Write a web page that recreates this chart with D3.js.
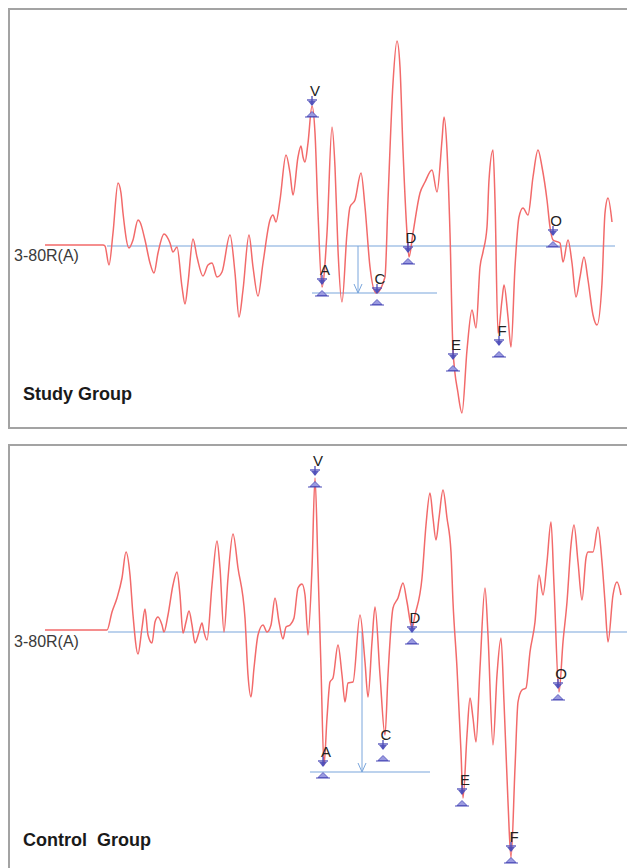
<!DOCTYPE html>
<html><head><meta charset="utf-8">
<script src="https://cdn.jsdelivr.net/npm/d3@7/dist/d3.min.js"></script>
<style>body{margin:0;background:#fff;}svg{display:block;}</style>
</head><body>
<script>
// Time in ms (0 = stimulus onset), amplitude in µV
const studyTime = [-1.24,-0.08,-0.04,0.04,0.12,0.22,0.28,0.32,0.44,0.52,0.62,0.66,0.76,0.86,0.94,1.02,1.14,1.26,1.32,1.40,1.50,1.56,1.62,1.72,1.80,1.92,2.02,2.10,2.20,2.30,2.46,2.56,2.64,2.72,2.84,2.92,3.02,3.12,3.26,3.32,3.38,3.46,3.58,3.66,3.72,3.82,3.88,3.92,3.96,4.02,4.10,4.16,4.22,4.30,4.40,4.50,4.56,4.62,4.70,4.80,4.86,4.96,5.08,5.16,5.26,5.38,5.56,5.62,5.72,5.80,5.86,5.92,6.00,6.04,6.12,6.26,6.36,6.50,6.60,6.70,6.74,6.80,6.86,6.92,7.02,7.10,7.20,7.30,7.38,7.46,7.52,7.60,7.64,7.72,7.76,7.82,7.90,7.94,8.02,8.08,8.16,8.24,8.32,8.42,8.52,8.62,8.70,8.80,8.86,8.92,9.06,9.12,9.22,9.30,9.38,9.46,9.54,9.62,9.72,9.80,9.90,9.96,10.02,10.10];
const studyAmp = [0.01,0.01,0.00,-0.19,0.13,0.63,0.53,0.33,-0.02,0.06,0.26,0.24,0.06,-0.17,-0.27,-0.07,0.12,0.03,-0.06,-0.01,-0.41,-0.58,-0.37,0.07,-0.11,-0.30,-0.19,-0.17,-0.31,-0.26,0.11,-0.27,-0.71,-0.44,0.11,-0.21,-0.50,-0.17,0.26,0.31,0.24,0.46,0.91,0.73,0.51,0.89,1.00,0.89,0.84,1.03,1.40,1.13,0.33,-0.41,0.13,1.19,0.79,-0.04,-0.56,0.13,0.39,0.46,0.73,0.39,-0.21,-0.47,-0.31,0.46,1.63,2.05,1.79,0.96,0.13,-0.11,0.13,0.53,0.64,0.76,0.54,1.06,1.29,0.96,0.13,-1.04,-1.47,-1.67,-1.04,-0.64,-0.82,-0.21,-0.06,0.19,0.66,0.96,0.46,-0.87,-0.54,-0.39,-0.71,-1.01,-0.21,0.29,0.38,0.31,0.69,0.96,0.79,0.46,0.19,0.06,0.03,-0.16,0.06,-0.17,-0.51,-0.31,-0.11,-0.34,-0.69,-0.79,-0.37,0.33,0.48,0.24];

const controlTime = [-1.24,0.00,0.10,0.20,0.30,0.38,0.46,0.52,0.62,0.70,0.76,0.82,0.90,0.96,1.02,1.10,1.14,1.22,1.32,1.40,1.46,1.52,1.58,1.64,1.70,1.76,1.84,1.90,1.94,2.00,2.10,2.20,2.26,2.34,2.42,2.52,2.62,2.76,2.82,2.88,2.94,3.02,3.12,3.20,3.28,3.36,3.44,3.52,3.58,3.66,3.74,3.82,3.90,3.96,4.02,4.10,4.16,4.22,4.28,4.34,4.40,4.46,4.52,4.62,4.70,4.76,4.82,4.92,5.06,5.16,5.22,5.30,5.36,5.46,5.56,5.62,5.72,5.82,5.92,6.00,6.10,6.16,6.30,6.38,6.46,6.52,6.58,6.64,6.72,6.80,6.88,6.92,7.00,7.08,7.12,7.20,7.26,7.32,7.38,7.46,7.56,7.62,7.72,7.80,7.88,7.94,8.02,8.08,8.16,8.22,8.30,8.38,8.46,8.56,8.64,8.72,8.80,8.88,8.94,9.04,9.12,9.20,9.28,9.34,9.42,9.50,9.58,9.62,9.72,9.82,9.90,9.96,10.02,10.12,10.20,10.28];
const controlAmp = [0.02,0.02,0.20,0.34,0.54,0.80,0.57,0.17,-0.22,0.04,0.23,-0.03,-0.11,0.10,0.15,0.07,0.00,0.17,0.47,0.60,0.37,-0.01,0.10,0.21,0.07,-0.11,0.00,0.09,0.00,-0.08,0.47,0.91,0.64,0.00,0.54,0.98,0.64,0.14,-0.43,-0.65,-0.36,-0.03,0.07,0.00,0.07,0.34,0.10,-0.07,0.05,0.07,0.14,0.44,0.48,0.37,-0.03,0.64,1.54,0.64,-0.36,-1.33,-0.86,-0.50,-0.46,-0.13,-0.43,-0.70,-0.51,-0.50,0.17,-0.30,-0.65,-0.10,0.25,-0.43,-1.03,-0.43,0.24,0.34,0.49,0.30,0.04,0.17,0.54,1.07,1.39,1.14,0.92,1.14,1.42,1.14,0.80,0.30,-0.36,-1.20,-1.66,-1.03,-0.66,-0.86,-1.10,-0.36,0.44,-0.03,-1.13,-0.43,-0.06,-0.70,-1.70,-2.26,-1.36,-0.70,-0.58,-0.56,-0.20,0.10,0.57,0.37,0.70,1.10,0.47,-0.60,-0.10,0.30,0.87,1.07,0.70,0.32,0.74,0.80,0.80,1.05,0.70,0.30,-0.10,0.37,0.50,0.37];

const markerLabels = ["V","A","C","D","E","F","O"];
const studyMarkerTime = [4.10,4.30,5.40,6.02,6.92,7.84,8.92];
const studyMarkerAmp  = [1.38,-0.41,-0.50,-0.09,-1.16,-1.02,0.08];
const controlMarkerTime = [4.16,4.32,5.52,6.10,7.10,8.08,9.02];
const controlMarkerAmp  = [1.54,-1.37,-1.20,-0.03,-1.65,-2.22,-0.59];

// amplitude reference: [start time, end time, arrow time, level]
const studyRef = [4.10, 6.60, 5.02, -0.47];
const controlRef = [4.06, 6.46, 5.10, -1.40];

const panelTitles = ["Study Group", "Control  Group"];
const channelLabel = "3-80R(A)";
const baselineSpan = [0.0, 10.16];
const baselineSpan2 = [0.02, 10.40];

const W = 627, H = 868;
const svg = d3.select("body").append("svg").attr("width", W).attr("height", H);

const x = d3.scaleLinear().domain([0, 10]).range([107, 607]);
const pxPerUv = 100;
const yStudy = d3.scaleLinear().domain([0, 1]).range([246, 246 - pxPerUv]);
const yControl = d3.scaleLinear().domain([0, 1]).range([632, 632 - pxPerUv]);

const panels = [
  {top: 9, bottom: 428, y: yStudy, time: studyTime, amp: studyAmp, mt: studyMarkerTime, ma: studyMarkerAmp, ref: studyRef, title: panelTitles[0], titleY: 400, base: baselineSpan},
  {top: 445, bottom: 880, y: yControl, time: controlTime, amp: controlAmp, mt: controlMarkerTime, ma: controlMarkerAmp, ref: controlRef, title: panelTitles[1], titleY: 846, base: baselineSpan2}
];

const blue = "#7aa6dc";
const mblue = "#4b4bb8";
const font = "Liberation Sans, Arial, sans-serif";

panels.forEach(p => {
  const g = svg.append("g");
  g.append("rect").attr("x", 9).attr("y", p.top).attr("width", 640).attr("height", p.bottom - p.top)
    .attr("fill", "none").attr("stroke", "#a3a3a3").attr("stroke-width", 2);

  g.append("line").attr("x1", x(p.base[0])).attr("x2", x(p.base[1]))
    .attr("y1", p.y(0)).attr("y2", p.y(0)).attr("stroke", blue).attr("stroke-width", 1.2);

  const [t0, t1, ta, lv] = p.ref;
  g.append("line").attr("x1", x(t0)).attr("x2", x(t1)).attr("y1", p.y(lv)).attr("y2", p.y(lv))
    .attr("stroke", blue).attr("stroke-width", 1.2);
  g.append("line").attr("x1", x(ta)).attr("x2", x(ta)).attr("y1", p.y(0)).attr("y2", p.y(lv))
    .attr("stroke", blue).attr("stroke-width", 1);
  g.append("path").attr("d", `M${x(ta)-4},${p.y(lv)-9}L${x(ta)},${p.y(lv)}L${x(ta)+4},${p.y(lv)-9}`)
    .attr("fill", "none").attr("stroke", blue).attr("stroke-width", 1);

  g.append("text").attr("x", 14).attr("y", p.y(0) + 15).text(channelLabel)
    .attr("font-family", font).attr("font-size", 16).attr("fill", "#3a3a3a");

  const data = p.time.map((t, i) => [t, p.amp[i]]);
  const line = d3.line().x(d => x(d[0])).y(d => p.y(d[1])).curve(d3.curveMonotoneX);
  g.append("path").datum(data).attr("d", line).attr("fill", "none")
    .attr("stroke", "#f26a6a").attr("stroke-width", 1.5);

  markerLabels.forEach((lab, i) => {
    const mx = x(p.mt[i]), my = p.y(p.ma[i]);
    const mg = g.append("g").attr("transform", `translate(${mx},${my})`);
    mg.append("line").attr("x1", -5).attr("x2", 5).attr("y1", -8).attr("y2", -8).attr("stroke", mblue).attr("stroke-width", 1.3);
    mg.append("line").attr("x1", 0).attr("x2", 0).attr("y1", -12).attr("y2", -3).attr("stroke", mblue).attr("stroke-width", 1.3);
    mg.append("path").attr("d", "M-4,-7L4,-7L0,-2Z").attr("fill", mblue).attr("opacity", 0.9);
    mg.append("path").attr("d", "M-5,8.5L5,8.5L0,3.5Z").attr("fill", "#9a9ae0").attr("stroke", mblue).attr("stroke-width", 0.8);
    mg.append("line").attr("x1", -7).attr("x2", 7).attr("y1", 9).attr("y2", 9).attr("stroke", mblue).attr("stroke-width", 1);
    mg.append("text").attr("x", 3).attr("y", -12).attr("text-anchor", "middle").text(lab)
      .attr("font-family", font).attr("font-size", 15).attr("fill", "#222");
  });

  g.append("text").attr("x", 23).attr("y", p.titleY).text(p.title)
    .attr("font-family", font).attr("font-weight", "bold")
    .attr("font-size", 18).attr("fill", "#1a1a1a").style("white-space", "pre");
});
</script>
</body></html>
